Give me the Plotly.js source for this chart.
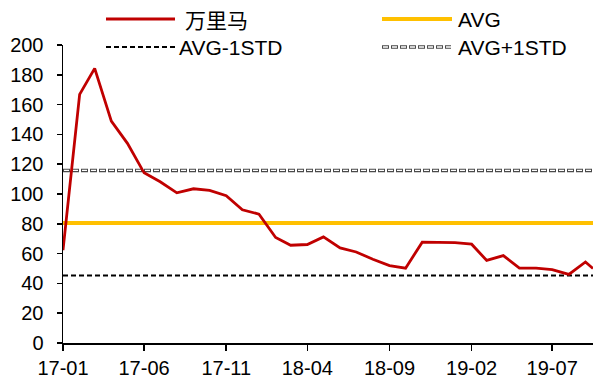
<!DOCTYPE html>
<html>
<head>
<meta charset="utf-8">
<script src="https://cdn.plot.ly/plotly-3.0.1.min.js"></script>
<style>html,body{margin:0;padding:0;background:#fff;}#chart{width:594px;height:383px;}</style>
</head>
<body>
<div id="chart"></div>
<script>
// ---- data ----
const dates = [
  '2017-01-01','2017-02-01','2017-03-01','2017-04-01','2017-05-01','2017-06-01',
  '2017-07-01','2017-08-01','2017-09-01','2017-10-01','2017-11-01','2017-12-01',
  '2018-01-01','2018-02-01','2018-03-01','2018-04-01','2018-05-01','2018-06-01',
  '2018-07-01','2018-08-01','2018-09-01','2018-10-01','2018-11-01','2018-12-01',
  '2019-01-01','2019-02-01','2019-03-01','2019-04-01','2019-05-01','2019-06-01',
  '2019-07-01','2019-08-01','2019-09-01','2019-09-15'
];
const wanlima = [
  62.3, 166.9, 184.3, 148.9, 134.0, 114.2,
  108.2, 100.8, 103.5, 102.4, 98.8, 89.4,
  86.5, 70.8, 65.6, 66.1, 71.2, 63.8,
  61.1, 56.2, 52.0, 50.2, 67.7, 67.7,
  67.4, 66.3, 55.4, 58.7, 50.2, 50.2,
  49.3, 46.0, 54.4, 50.0
];
const avgValue = 80.5;
const avgMinusStd = 45.3;
const avgPlusStd = 115.8;
const tickVals = ['2017-01-01','2017-06-01','2017-11-01','2018-04-01','2018-09-01','2019-02-01','2019-07-01'];
const tickText = ['17-01','17-06','17-11','18-04','18-09','19-02','19-07'];
const seriesNames = ['万里马','AVG','AVG-1STD','AVG+1STD'];

// ---- styles ----
const RED = '#C00000', YEL = '#FFC000', GRY = '#4a4a4a';
const FONT = 'Liberation Sans, Arial, sans-serif';
const CJK = 'Noto Sans CJK SC, sans-serif';
const xSpan = [dates[0], dates[dates.length-1]];

const traces = [
  {x: xSpan, y: [avgPlusStd, avgPlusStd], mode: 'lines', line: {color: GRY, width: 3.5, dash: '7px,2px'}, hoverinfo: 'skip'},
  {x: xSpan, y: [avgPlusStd, avgPlusStd], mode: 'lines', line: {color: '#ffffff', width: 1.3, dash: '0px,1px,5px,3px'}, hoverinfo: 'skip'},
  {x: xSpan, y: [avgMinusStd, avgMinusStd], mode: 'lines', name: seriesNames[2], line: {color: '#000', width: 2, dash: '5px,3px'}},
  {x: xSpan, y: [avgValue, avgValue], mode: 'lines', name: seriesNames[1], line: {color: YEL, width: 4}},
  {x: dates, y: wanlima, mode: 'lines', name: seriesNames[0], line: {color: RED, width: 2.8}}
];

// plot area in pixels: left 63, right 593, top 45, bottom 343
const L = 63, R = 593, T = 45, B = 343;
const px = v => (v - L) / (R - L);
const py = v => (B - v) / (B - T);

const legRows = [19, 47];
const shapes = [
  {type:'line', xref:'paper', yref:'paper', x0:px(106), x1:px(175), y0:py(legRows[0]), y1:py(legRows[0]), line:{color:RED, width:2.8}},
  {type:'line', xref:'paper', yref:'paper', x0:px(382), x1:px(452), y0:py(legRows[0]), y1:py(legRows[0]), line:{color:YEL, width:4}},
  {type:'line', xref:'paper', yref:'paper', x0:px(106), x1:px(176), y0:py(legRows[1]), y1:py(legRows[1]), line:{color:'#000', width:2, dash:'5px,3px'}},
  {type:'line', xref:'paper', yref:'paper', x0:px(382), x1:px(451), y0:py(legRows[1]), y1:py(legRows[1]), line:{color:GRY, width:3.5, dash:'7px,2px'}},
  {type:'line', xref:'paper', yref:'paper', x0:px(382), x1:px(451), y0:py(legRows[1]), y1:py(legRows[1]), line:{color:'#fff', width:1.3, dash:'0px,1px,5px,3px'}}
];
const ann = (txt, x, y, fam) => ({text: txt, xref:'paper', yref:'paper', x: px(x), y: py(y), xanchor:'left', yanchor:'middle', xshift:-1, showarrow:false, font:{family: fam, size: 21, color:'#000'}});
const annotations = [
  ann(seriesNames[0], 184, legRows[0], CJK),
  ann(seriesNames[1], 457, legRows[0], FONT),
  ann(seriesNames[2], 178, legRows[1], FONT),
  ann(seriesNames[3], 457, legRows[1], FONT)
];

const layout = {
  width: 594, height: 383,
  margin: {l: L, r: 594 - R, t: T, b: 383 - B, pad: 0},
  paper_bgcolor: '#fff', plot_bgcolor: '#fff',
  showlegend: false,
  font: {family: FONT, size: 20, color: '#000'},
  xaxis: {
    type: 'date', range: xSpan, tickmode: 'array', tickvals: tickVals, ticktext: tickText,
    showgrid: false, zeroline: false, showline: true, linecolor: '#000', linewidth: 1.5,
    ticks: 'outside', ticklen: 6, tickwidth: 1.5, tickcolor: '#000',
    tickfont: {family: FONT, size: 20, color: '#000'}
  },
  yaxis: {
    range: [0, 200], dtick: 20, tick0: 0,
    showgrid: false, zeroline: false, showline: true, linecolor: '#000', linewidth: 1.5,
    ticks: 'outside', ticklen: 5, tickwidth: 1.5, tickcolor: '#000',
    ticklabelstandoff: 9,
    tickfont: {family: FONT, size: 20, color: '#000'}
  },
  shapes: shapes,
  annotations: annotations
};

Plotly.newPlot('chart', traces, layout, {staticPlot: true, displayModeBar: false});
</script>
</body>
</html>
